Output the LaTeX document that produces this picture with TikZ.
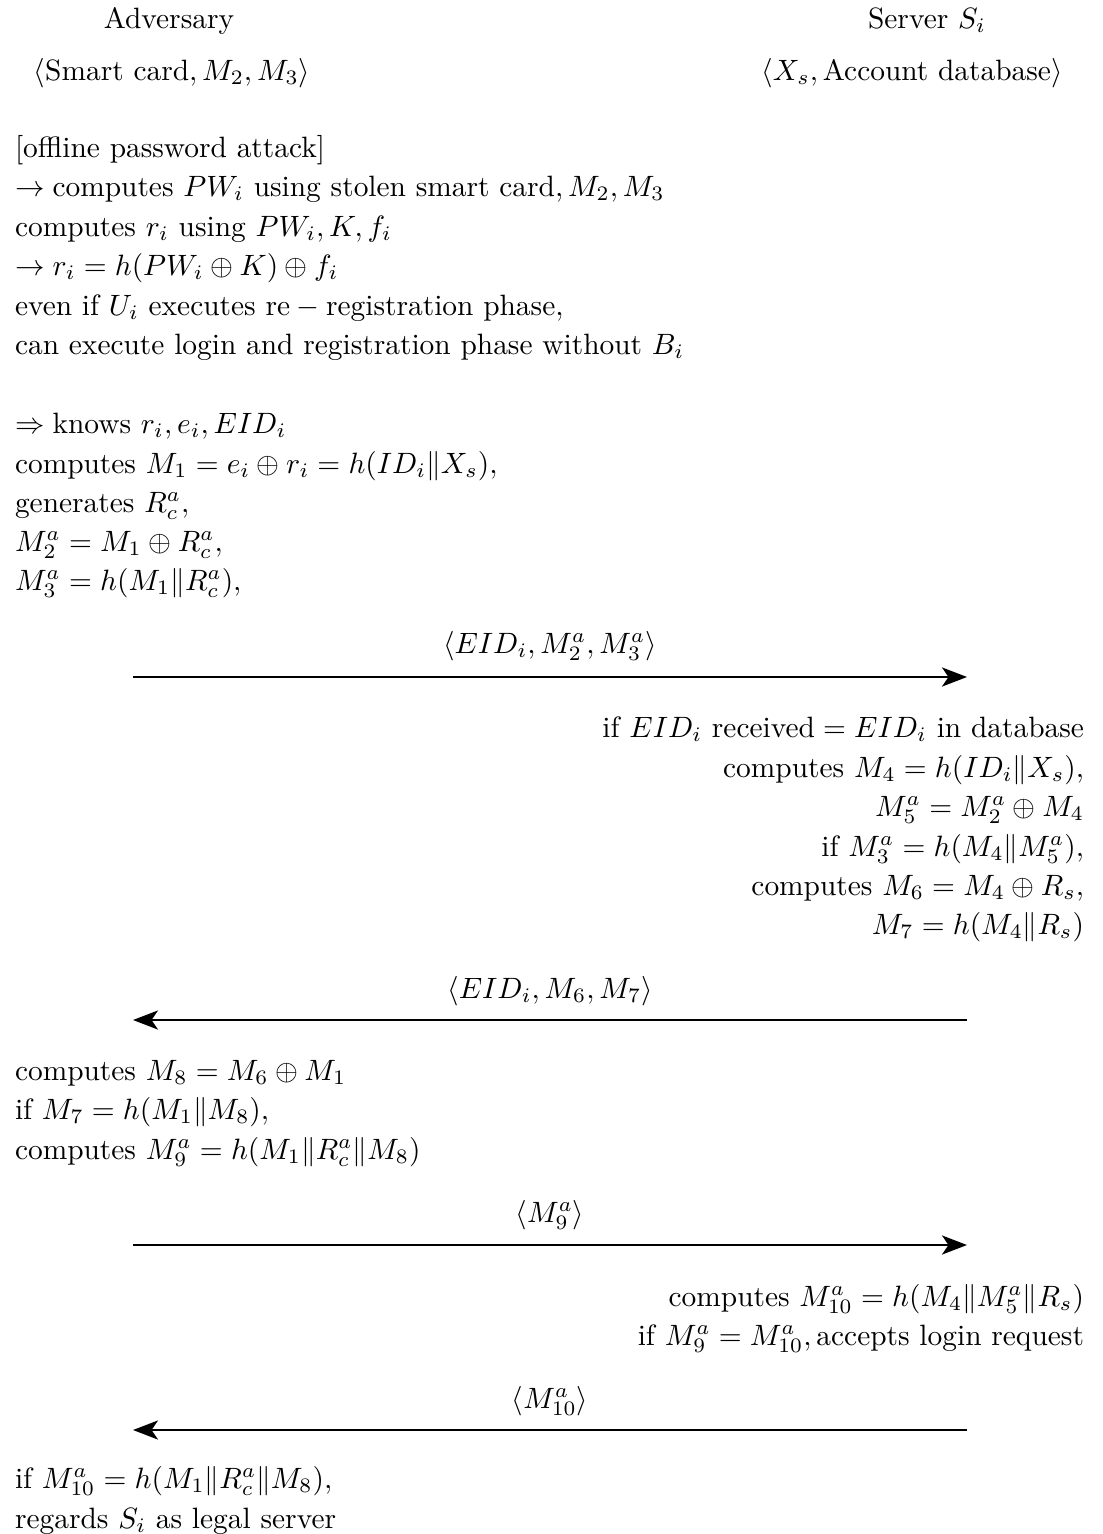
\documentclass[tikz,border=0pt]{standalone}
\usepackage{amsmath}
\usetikzlibrary{arrows.meta}
\tikzset{
  lt/.style={inner sep=0pt, outer sep=0pt, anchor=base west},
  rt/.style={inner sep=0pt, outer sep=0pt, anchor=base east},
  ct/.style={inner sep=0pt, outer sep=0pt, anchor=base},
  msg/.style={line width=0.65pt, -{Stealth[length=8.5pt,width=6.5pt,inset=2.2pt]}}
}
\begin{document}
\begin{tikzpicture}[x=0.34pt,y=-0.34pt]
\useasboundingbox (0,0) rectangle (1102,1534);
% headers
\node[ct] (adv) at (169,28) {Adversary};
\node[ct] (srv) at (927,28) {Server $S_i$};
\node[ct] (advk) at (172,80) {$\langle\text{Smart card}, M_2, M_3\rangle$};
\node[ct] (srvk) at (912,80) {$\langle X_s, \text{Account database}\rangle$};
% adversary block 1
\node[lt] (a1) at (15,157) {$[\text{offline password attack}]$};
\node[lt] (a2) at (15,196) {$\rightarrow \text{computes } PW_i \text{ using stolen smart card}, M_2, M_3$};
\node[lt] (a3) at (15,236) {$\text{computes } r_i \text{ using } PW_i, K, f_i$};
\node[lt] (a4) at (15,275) {$\rightarrow r_i = h(PW_i \oplus K) \oplus f_i$};
\node[lt] (a5) at (15,315) {$\text{even if } U_i \text{ executes re} - \text{registration phase},$};
\node[lt] (a6) at (15,354) {$\text{can execute login and registration phase without } B_i$};
% adversary block 2
\node[lt] (b1) at (15,433) {$\Rightarrow \text{knows } r_i, e_i, EID_i$};
\node[lt] (b2) at (15,473) {$\text{computes } M_1 = e_i \oplus r_i = h(ID_i \| X_s),$};
\node[lt] (b3) at (15,512) {$\text{generates } R_c^a,$};
\node[lt] (b4) at (15,551) {$M_2^a = M_1 \oplus R_c^a,$};
\node[lt] (b5) at (15,590) {$M_3^a = h(M_1 \| R_c^a),$};
% message 1
\coordinate (L1) at (133,677);
\coordinate (R1) at (967,677);
\draw[msg] (L1) -- (R1);
\node[ct] (m1) at (550,653) {$\langle EID_i, M_2^a, M_3^a\rangle$};
% server block 1
\node[rt] (s1) at (1084,737) {$\text{if } EID_i \text{ received} = EID_i \text{ in database}$};
\node[rt] (s2) at (1084,777) {$\text{computes } M_4 = h(ID_i \| X_s),$};
\node[rt] (s3) at (1084,816) {$M_5^a = M_2^a \oplus M_4$};
\node[rt] (s4) at (1084,856) {$\text{if } M_3^a = h(M_4 \| M_5^a),$};
\node[rt] (s5) at (1084,895) {$\text{computes } M_6 = M_4 \oplus R_s,$};
\node[rt] (s6) at (1084,934) {$M_7 = h(M_4 \| R_s)$};
% message 2
\coordinate (L2) at (133,1020);
\coordinate (R2) at (967,1020);
\draw[msg] (R2) -- (L2);
\node[ct] (m2) at (550,998) {$\langle EID_i, M_6, M_7\rangle$};
% adversary block 3
\node[lt] (c1) at (15,1080) {$\text{computes } M_8 = M_6 \oplus M_1$};
\node[lt] (c2) at (15,1119) {$\text{if } M_7 = h(M_1 \| M_8),$};
\node[lt] (c3) at (15,1159) {$\text{computes } M_9^a = h(M_1 \| R_c^a \| M_8)$};
% message 3
\coordinate (L3) at (133,1245);
\coordinate (R3) at (967,1245);
\draw[msg] (L3) -- (R3);
\node[ct] (m3) at (550,1222) {$\langle M_9^a\rangle$};
% server block 2
\node[rt] (t1) at (1084,1306) {$\text{computes } M_{10}^a = h(M_4 \| M_5^a \| R_s)$};
\node[rt] (t2) at (1084,1345) {$\text{if } M_9^a = M_{10}^a, \text{accepts login request}$};
% message 4
\coordinate (L4) at (133,1430);
\coordinate (R4) at (967,1430);
\draw[msg] (R4) -- (L4);
\node[ct] (m4) at (550,1408) {$\langle M_{10}^a\rangle$};
% adversary block 4
\node[lt] (d1) at (15,1488) {$\text{if } M_{10}^a = h(M_1 \| R_c^a \| M_8),$};
\node[lt] (d2) at (15,1528) {$\text{regards } S_i \text{ as legal server}$};
\end{tikzpicture}
\end{document}
